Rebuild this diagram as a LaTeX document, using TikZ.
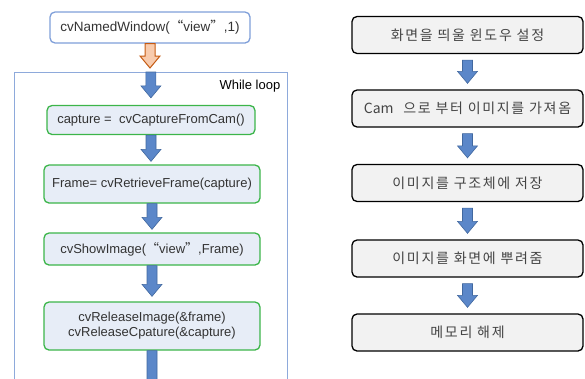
\documentclass[tikz,border=0pt]{standalone}
\usepackage{fontspec}
\setmainfont{Liberation Sans}
\newfontfamily\kor[LetterSpace=12]{Noto Sans CJK KR}
\newfontfamily\korn{Noto Sans CJK KR}
\newfontfamily\korq[CharacterWidth=Full]{Noto Sans CJK KR}
\usetikzlibrary{calc}
\definecolor{winblue}{HTML}{7F9FD9}
\definecolor{loopblue}{HTML}{8EAADB}
\definecolor{codegreen}{HTML}{3CB54A}
\definecolor{codefill}{HTML}{E7EDF7}
\definecolor{arrfill}{HTML}{5B87C9}
\definecolor{arrdraw}{HTML}{41689F}
\definecolor{orfill}{HTML}{F8CBAD}
\definecolor{ordraw}{HTML}{C55A11}
\definecolor{textgray}{HTML}{333333}
\definecolor{stepgray}{HTML}{444444}
\definecolor{stepfill}{HTML}{F2F2F2}
% block arrow straight down from #2 to the height of #3
\newcommand\blkarrow[3][bluearr]{%
  \draw[#1] let \p1=(#2), \p2=(#3) in
    (\x1-5pt,\y1) -- (\x1-5pt,\y2+12pt) -- (\x1-10pt,\y2+12pt) -- (\x1,\y2)
    -- (\x1+10pt,\y2+12pt) -- (\x1+5pt,\y2+12pt) -- (\x1+5pt,\y1) -- cycle;}
\newcommand\q[1]{{\korq #1}}
\begin{document}
\begin{tikzpicture}[x=1pt,y=-1pt,
    bluearr/.style={fill=arrfill,draw=arrdraw,line width=0.6pt},
    orangearr/.style={fill=orfill,draw=ordraw,line width=1pt},
    winbox/.style={draw=winblue,fill=white,line width=1.3pt,rounded corners=5pt,
      text=textgray,font=\fontsize{13.5}{15}\selectfont,inner sep=0pt},
    codebox/.style={draw=codegreen,fill=codefill,line width=1.3pt,rounded corners=5pt,
      text=textgray,font=\fontsize{13}{15}\selectfont,inner sep=0pt,align=center},
    stepbox/.style={draw=black,fill=stepfill,line width=1.3pt,rounded corners=5pt,
      text=stepgray,font=\kor\fontsize{14}{16}\selectfont,inner sep=0pt,
      minimum width=231,minimum height=37}]
  \clip (0,0) rectangle (585,378);
  % left: code
  \node[winbox,minimum width=200,minimum height=31] (win) at (150,27.5)
    {cvNamedWindow(\q{“}view\q{”},1)};
  \node[draw=loopblue,line width=0.8pt,minimum width=273,minimum height=330,
    anchor=north west] (loop) at (14,72) {};
  \node[anchor=north east,text=black,font=\fontsize{13}{15}\selectfont]
    (looplbl) at ([xshift=-4pt,yshift=-5pt]loop.north east) {While loop};
  \node[codebox,minimum width=208,minimum height=29] (cap) at (151,120)
    {capture =\ \ cvCaptureFromCam()};
  \node[codebox,minimum width=216,minimum height=38] (frm) at (152,184)
    {Frame= cvRetrieveFrame(capture)};
  \node[codebox,minimum width=216,minimum height=32] (show) at (152,249)
    {cvShowImage(\q{“}view\q{”},Frame)};
  \node[codebox,minimum width=216,minimum height=48] (rel) at (152,326)
    {cvReleaseImage(\&frame)\\cvReleaseCpature(\&capture)};
  \coordinate (out) at (152,395);
  \blkarrow[orangearr]{win.south}{[yshift=4pt]loop.north}
  \blkarrow{loop.north}{[yshift=7pt]cap.north}
  \blkarrow{cap.south}{[yshift=3pt]frm.north}
  \blkarrow{frm.south}{[yshift=3pt]show.north}
  \blkarrow{show.south}{[yshift=5pt]rel.north}
  \blkarrow{rel.south}{out}
  % right: steps
  \foreach \y/\n/\t in {35/s1/화면을 띄울 윈도우 설정,
                        108.5/s2/{\korn Cam}\ \ 으로 부터 이미지를 가져옴,
                        183/s3/이미지를 구조체에 저장,
                        258.5/s4/이미지를 화면에 뿌려줌,
                        332.5/s5/메모리 해제}
    \node[stepbox] (\n) at (467.5,\y) {\t};
  \foreach \a/\b in {s1/s2,s2/s3,s3/s4,s4/s5}
    \blkarrow{[yshift=-6pt]\a.south}{[yshift=6pt]\b.north};
\end{tikzpicture}
\end{document}
